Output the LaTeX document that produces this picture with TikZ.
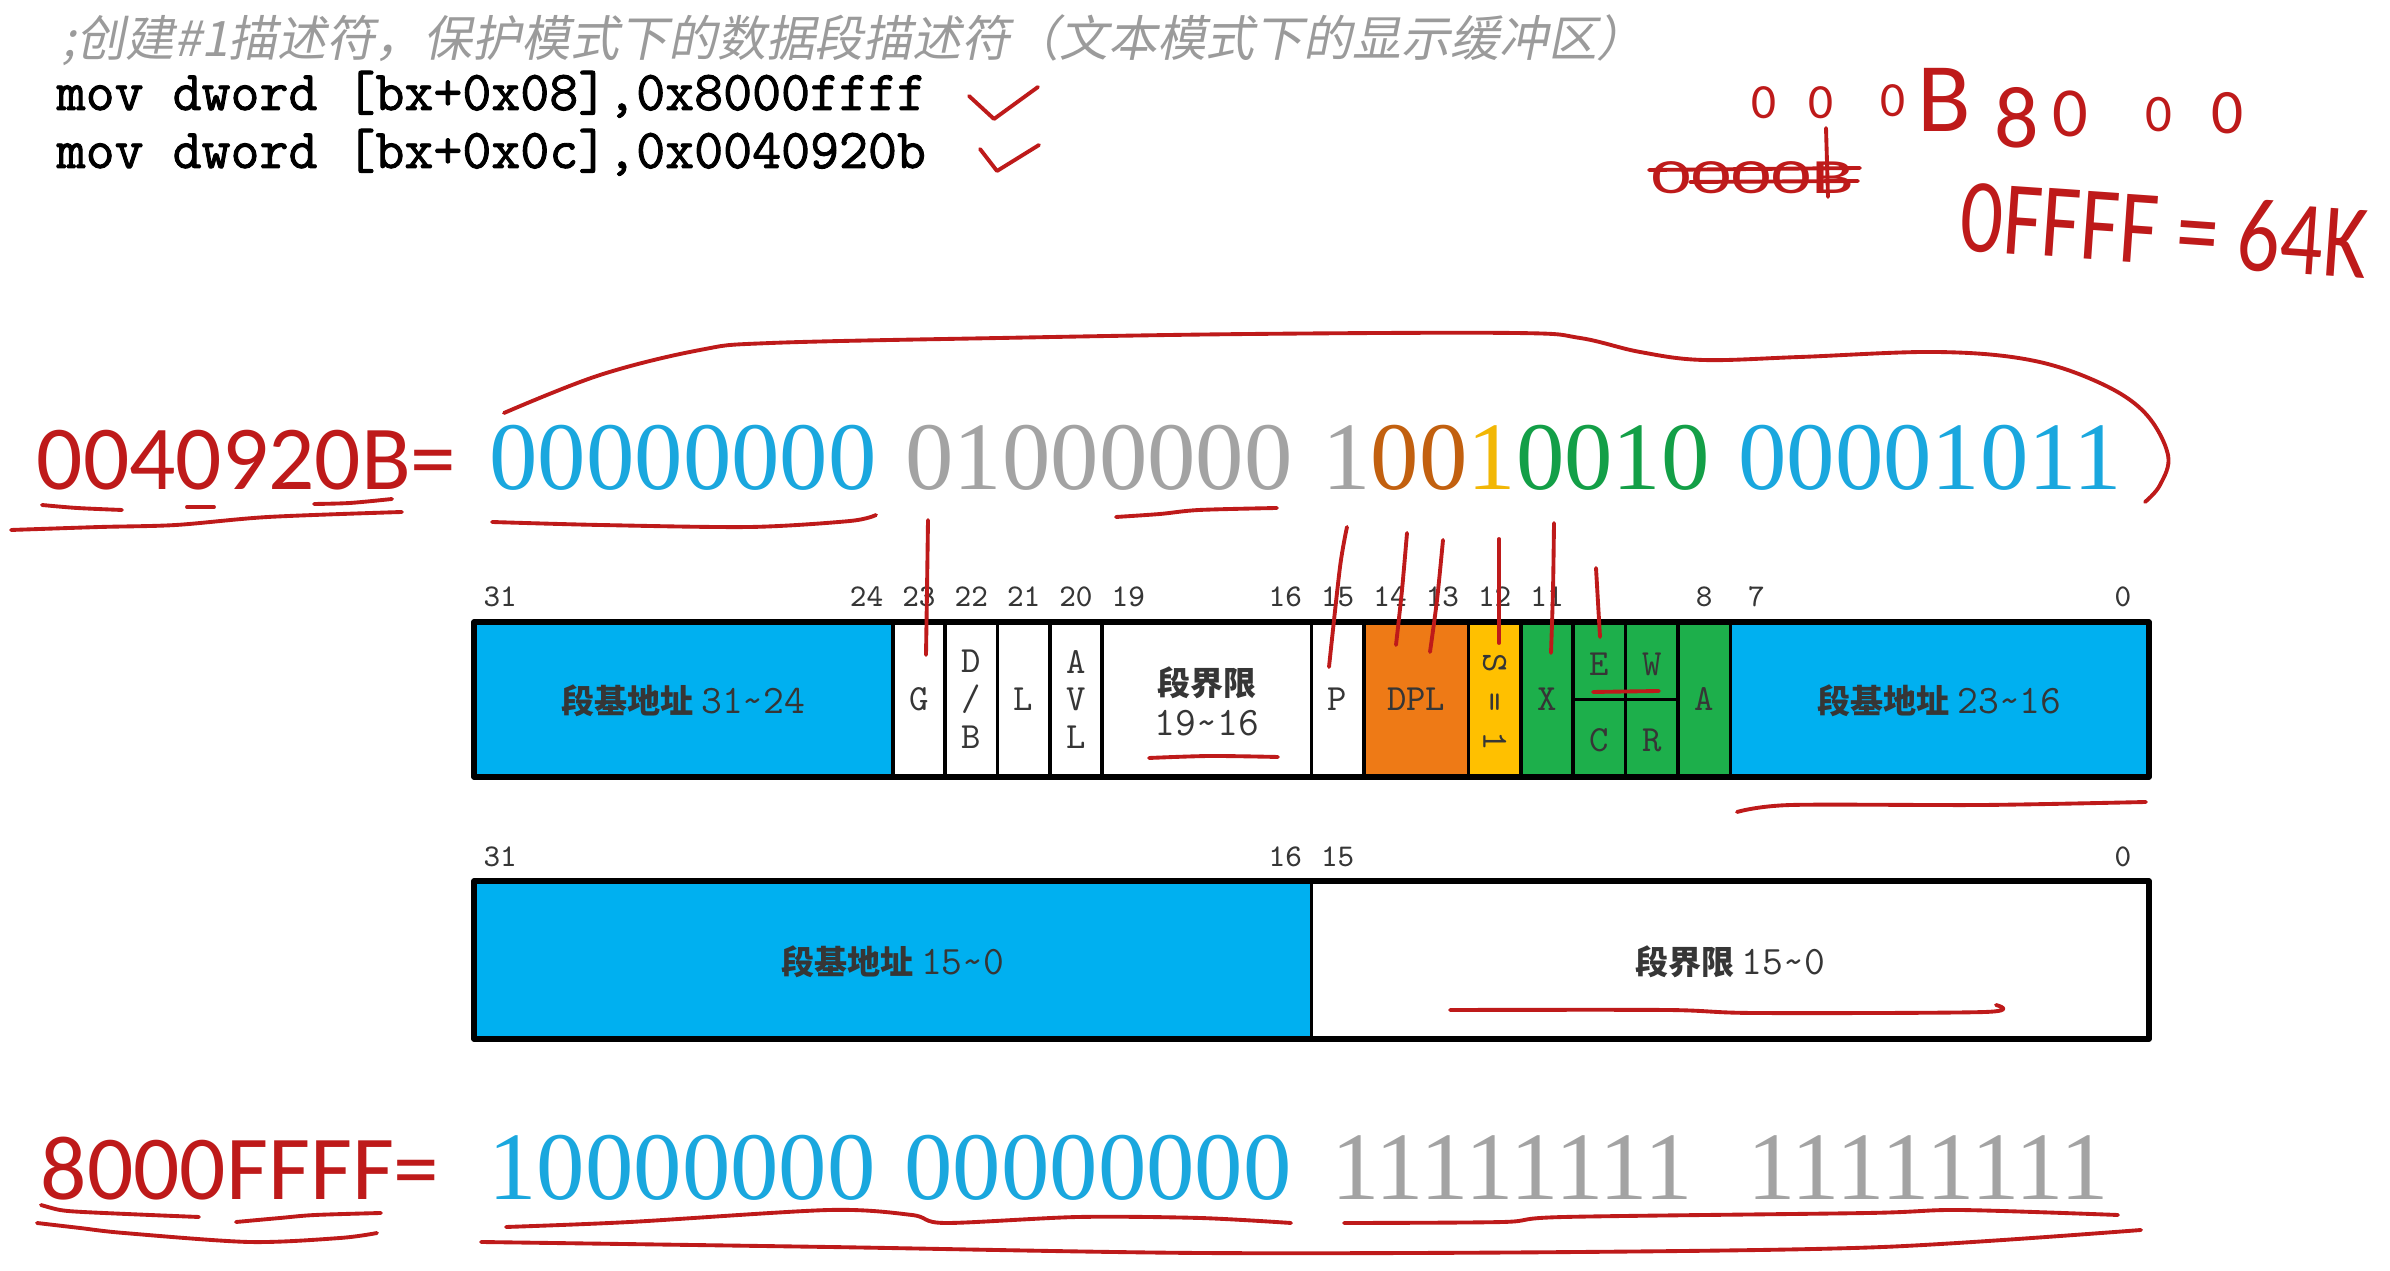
\documentclass[tikz,border=0pt]{standalone}
\usepackage{fontspec}
\setmainfont{Liberation Serif}
\newfontfamily\cjkfont{Noto Sans CJK SC}
\newfontfamily\cjkslant[FakeSlant=0.2]{Noto Sans CJK SC}
\newfontfamily\handfont{Carlito}
\newfontfamily\codefont[FakeBold=1.6]{Latin Modern Mono}
\newcommand\bitrange[2]{{\ttfamily\mdseries\fontsize{11.5}{12}\selectfont #1\textasciitilde #2}}
\definecolor{segblue}{HTML}{00B0F0}
\definecolor{dplorange}{HTML}{EE7A16}
\definecolor{syellow}{HTML}{FFC000}
\definecolor{typegreen}{HTML}{1DAF4B}
\definecolor{digblue}{HTML}{1AA7DE}
\definecolor{diggray}{HTML}{A3A3A3}
\definecolor{digbrown}{HTML}{C2600F}
\definecolor{digyellow}{HTML}{F2B705}
\definecolor{diggreen}{HTML}{139F47}
\definecolor{ink}{HTML}{BE1A1A}
\definecolor{notegray}{HTML}{9B9B9B}
\definecolor{labelgray}{HTML}{363636}
\begin{document}
\begin{tikzpicture}[x=0.01cm, y=-0.01cm, line join=round, line cap=round,
  cellline/.style={draw=black, line width=1pt},
  frame/.style={draw=black, line width=1.5pt},
  celltext/.style={font=\ttfamily\fontsize{10.5}{10.8}\selectfont, text=labelgray, align=center, inner sep=0pt},
  cjklabel/.style={font=\cjkfont\bfseries\fontsize{9.4}{11}\selectfont, text=labelgray, inner sep=0pt},
  bitno/.style={font=\ttfamily\fontsize{9}{9}\selectfont, text=labelgray, inner sep=0pt},
  bits/.style={font=\fontsize{27.5}{30}\selectfont, anchor=base, inner sep=0pt},
  hexval/.style={font=\handfont\fontsize{26}{28}\selectfont, text=ink, anchor=base west, inner sep=0pt},
  notetext/.style={font=\cjkslant\fontsize{13.9}{15}\selectfont, text=notegray, anchor=base west, inner sep=0pt},
  codeline/.style={font=\codefont\fontsize{16}{17}\selectfont, anchor=base west, inner sep=0pt},
  pen/.style={draw=ink, line width=1.1pt}]
\def\xo{474}
\def\bw{52.34375}
\path[use as bounding box, fill=white] (0,0) rectangle (2390,1271);

% source lines
\node[notetext] (note) at (62,57) {;创建\#1描述符，保护模式下的数据段描述符（文本模式下的显示缓冲区）};
\node[codeline] (movA) at (56,110) {mov dword [bx+0x08],0x8000ffff};
\node[codeline] (movB) at (56,168) {mov dword [bx+0x0c],0x0040920b};

% high dword
\node[hexval] (hexHi) at (36,490) {0040920B=};
\node[bits, text=digblue] (hiA) at (683,490) {00000000};
\node[bits, text=diggray] (hiB) at (1099,490) {01000000};
\node[bits] (hiC) at (1516,490) {\textcolor{diggray}{1}\textcolor{digbrown}{00}\textcolor{digyellow}{1}\textcolor{diggreen}{0010}};
\node[bits, text=digblue] (hiD) at (1930,490) {00001011};

% descriptor, upper half
\foreach \a/\b/\f in {0/8/segblue, 8/9/white, 9/10/white, 10/11/white, 11/12/white, 12/16/white, 16/17/white,
  17/19/dplorange, 19/20/syellow, 20/21/typegreen, 21/22/typegreen, 22/23/typegreen, 23/24/typegreen, 24/32/segblue}
  \draw[cellline, fill=\f] ({\xo+\a*\bw},622) rectangle ({\xo+\b*\bw},777);
\draw[cellline] ({\xo+21*\bw},699.5) -- ({\xo+23*\bw},699.5);
\draw[frame] (\xo,622) rectangle ({\xo+32*\bw},777);
\foreach \a/\b/\n/\t in {8/9/cG/G, 9/10/cDB/{D\\/\\B}, 10/11/cL/L, 11/12/cAVL/{A\\V\\L}, 16/17/cP/P, 17/19/cDPL/DPL, 20/21/cX/X, 23/24/cA/A}
  \node[celltext] (\n) at ({\xo+(\a+\b)/2*\bw},699.5) {\t};
\node[celltext, rotate=-90] (cS) at ({\xo+19.5*\bw},702) {S = 1};
\node[celltext] (cE) at ({\xo+21.5*\bw},664) {E};
\node[celltext] (cC) at ({\xo+21.5*\bw},740) {C};
\node[celltext] (cW) at ({\xo+22.5*\bw},664) {W};
\node[celltext] (cR) at ({\xo+22.5*\bw},740) {R};
\node[cjklabel] (baseHi) at ({\xo+4*\bw},701) {段基地址\ \bitrange{31}{24}};
\node[cjklabel] (limHi) at ({\xo+14*\bw},683) {段界限};
\node[cjklabel] (limHiR) at ({\xo+14*\bw},723) {\bitrange{19}{16}};
\node[cjklabel] (baseMid) at ({\xo+28*\bw},701) {段基地址\ \bitrange{23}{16}};
\foreach \n in {31,24,23,22,21,20,19,16,15,14,13,12,11,8,7,0}
  \node[bitno] (t\n) at ({\xo+(31.5-\n)*\bw},597) {\n};

% descriptor, lower half
\draw[cellline, fill=segblue] (\xo,881) rectangle ({\xo+16*\bw},1039);
\draw[cellline, fill=white] ({\xo+16*\bw},881) rectangle ({\xo+32*\bw},1039);
\draw[frame] (\xo,881) rectangle ({\xo+32*\bw},1039);
\node[cjklabel] (baseLo) at ({\xo+8*\bw},962) {段基地址\ \bitrange{15}{0}};
\node[cjklabel] (limLo) at ({\xo+24*\bw},962) {段界限\ \bitrange{15}{0}};
\foreach \n in {31,16,15,0}
  \node[bitno] (b\n) at ({\xo+(31.5-\n)*\bw},857) {\n};

% low dword
\node[hexval] (hexLo) at (40,1200) {8000FFFF=};
\node[bits, text=digblue] (loA) at (682,1200) {10000000};
\node[bits, text=digblue] (loB) at (1098,1200) {00000000};
\node[bits, text=diggray] (loC) at (1512,1200) {11111111};
\node[bits, text=diggray] (loD) at (1928,1200) {11111111};

% handwriting
\foreach \c/\x/\y/\s [count=\i] in {0/1764/103/14, 0/1821/103/14, 0/1893/101/14, B/1944/100/28,
  8/2017/118/25, 0/2070/114/20, 0/2159/115/15, 0/2228/113/18}
  \node[font=\handfont\fontsize{\s}{\s}\selectfont, text=ink, inner sep=0pt] (hw\i) at (\x,\y) {\c};
\node[font=\handfont\fontsize{14}{14}\selectfont, text=ink, inner sep=0pt, xscale=1.6] (oldbase) at (1753,178) {0000B};
\draw[pen] (1649,170) -- (1860,168) (1690,182) -- (1858,181) (1826,128) -- (1828,197);
\node[font=\handfont\fontsize{30}{30}\selectfont, text=ink, inner sep=0pt, anchor=base west, rotate=-4, xscale=0.8] (limit) at (1958,250) {0FFFF = 64K};
\draw[pen] (969,96) -- (994,119) -- (1038,87);
\draw[pen] (980,149) -- (997,171) -- (1039,145);
\draw[pen] plot[smooth, tension=0.6] coordinates {(504,413) (600,375) (700,350) (771,343) (1000,338) (1250,334) (1514,333)
  (1580,338) (1640,352) (1703,360) (1800,357) (1936,352) (2030,360) (2100,383) (2145,413) (2168,455) (2160,485) (2145,502)};
\draw[pen] plot[smooth] coordinates {(42,505) (77,508) (122,510)};
\draw[pen] (187,507) -- (214,507);
\draw[pen] plot[smooth] coordinates {(314,504) (350,503) (392,499)};
\draw[pen] plot[smooth] coordinates {(11,530) (100,527) (176,525) (268,517) (402,512)};
\draw[pen] plot[smooth] coordinates {(492,522) (600,525) (750,527) (850,521) (876,515)};
\draw[pen] plot[smooth] coordinates {(1116,517) (1160,514) (1199,510) (1277,508)};
\draw[pen] plot[smooth] coordinates {(928,520) (927,590) (926,655)};
\draw[pen] plot[smooth] coordinates {(1347,527) (1340,567) (1329,667)};
\draw[pen] plot[smooth] coordinates {(1407,533) (1402,590) (1396,645)};
\draw[pen] plot[smooth] coordinates {(1443,540) (1437,600) (1430,652)};
\draw[pen] (1499,539) -- (1499,643);
\draw[pen] plot[smooth] coordinates {(1554,523) (1553,590) (1551,653)};
\draw[pen] (1596,568) -- (1600,637);
\draw[pen] plot[smooth] coordinates {(1149,758) (1210,756) (1278,757)};
\draw[pen] (1593,692) -- (1659,691);
\draw[pen] plot[smooth] coordinates {(1737,812) (1791,805) (1983,805) (2146,802)};
\draw[pen] plot[smooth] coordinates {(1450,1010) (1667,1010) (1754,1013) (1985,1012) (1996,1005)};
\draw[pen] plot[smooth] coordinates {(41,1205) (60,1210) (83,1212) (150,1215) (199,1217)};
\draw[pen] plot[smooth] coordinates {(236,1222) (280,1218) (315,1215) (381,1213)};
\draw[pen] plot[smooth] coordinates {(37,1223) (80,1228) (124,1233) (249,1242) (340,1238) (377,1233)};
\draw[pen] plot[smooth] coordinates {(506,1227) (630,1222) (829,1210) (912,1215) (945,1223) (1078,1217) (1200,1218) (1291,1223)};
\draw[pen] plot[smooth] coordinates {(1344,1223) (1503,1222) (1564,1217) (1868,1213) (1959,1210) (2118,1215)};
\draw[pen] plot[smooth] coordinates {(481,1242) (829,1247) (1200,1253) (1579,1252) (1883,1247) (2141,1230)};
\end{tikzpicture}
\end{document}
